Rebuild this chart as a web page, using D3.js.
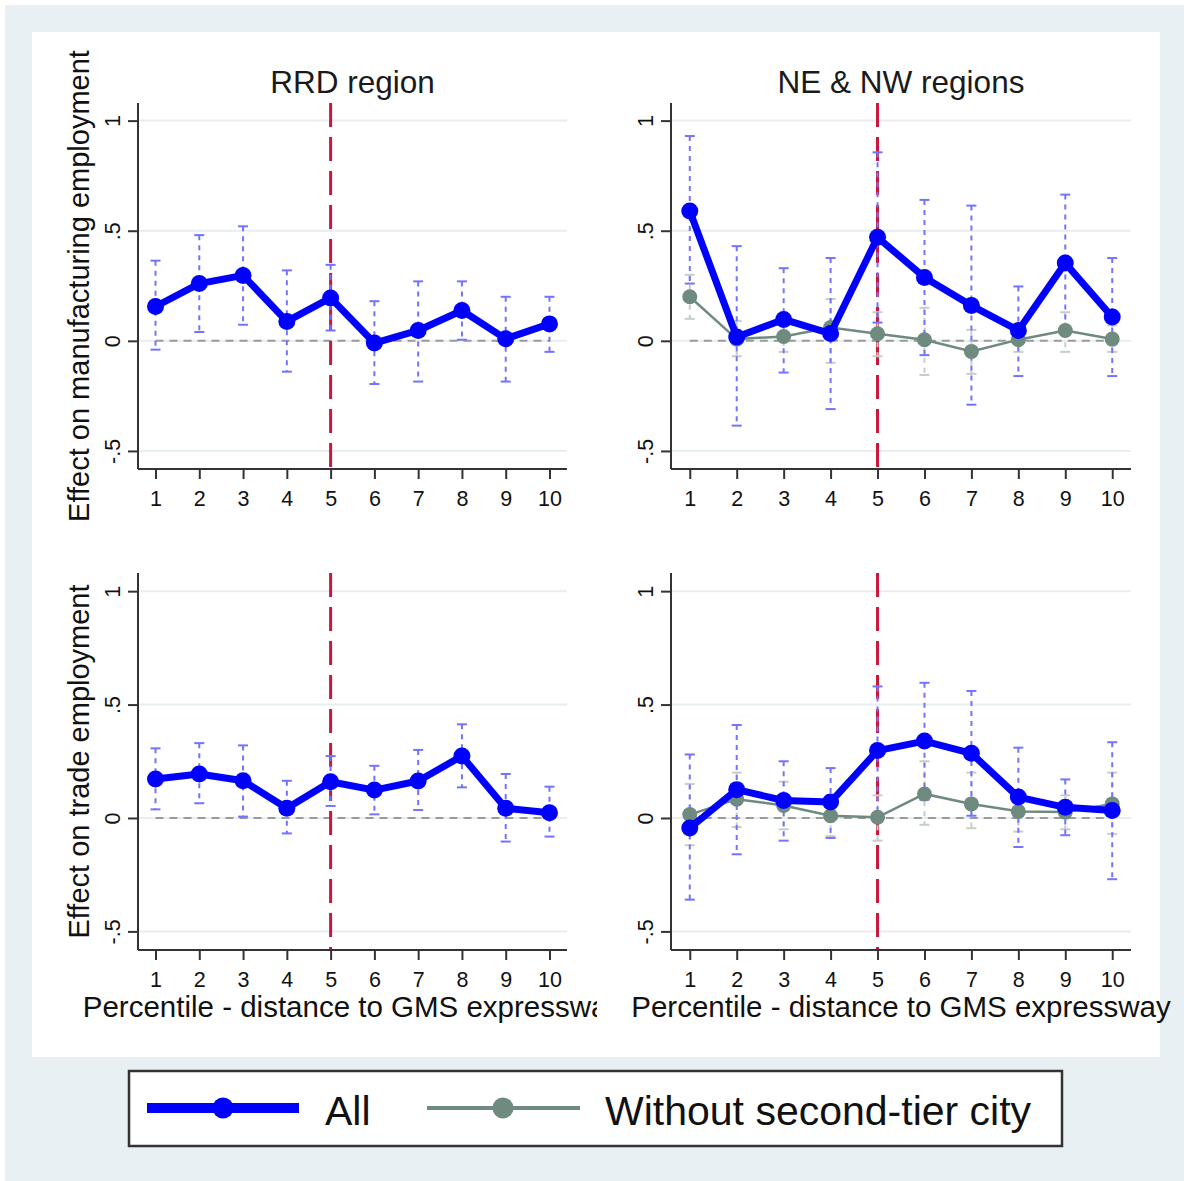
<!DOCTYPE html>
<html>
<head>
<meta charset="utf-8">
<script src="https://cdn.jsdelivr.net/npm/d3@7"></script>
<style>
  body { margin: 0; background: #fff; }
  svg { display: block; font-family: "Liberation Sans", Arial, sans-serif; }
</style>
</head>
<body>
<svg width="1184" height="1181"></svg>
<script>
// percentile bins
var bins = [1, 2, 3, 4, 5, 6, 7, 8, 9, 10];
var yTicks = [-0.5, 0, 0.5, 1];
var yTickLabels = ["-.5", "0", ".5", "1"];

// RRD region, manufacturing
var rrdMfgAll   = [0.156, 0.26, 0.297, 0.088, 0.195, -0.01, 0.047, 0.138, 0.009, 0.077];
var rrdMfgAllLo = [-0.04, 0.04, 0.073, -0.14, 0.047, -0.196, -0.185, 0.005, -0.185, -0.05];
var rrdMfgAllHi = [0.364, 0.48, 0.52, 0.32, 0.345, 0.18, 0.27, 0.27, 0.2, 0.2];

// NE & NW regions, manufacturing
var neMfgAll   = [0.59, 0.017, 0.097, 0.033, 0.47, 0.288, 0.16, 0.047, 0.353, 0.108];
var neMfgAllLo = [0.26, -0.385, -0.144, -0.31, 0.083, -0.065, -0.29, -0.16, 0.045, -0.16];
var neMfgAllHi = [0.93, 0.43, 0.33, 0.376, 0.856, 0.64, 0.614, 0.247, 0.664, 0.376];
var neMfgNo    = [0.2, 0.008, 0.02, 0.06, 0.032, 0.005, -0.048, 0.005, 0.047, 0.008];
var neMfgNoLo  = [0.1, -0.07, -0.05, -0.1, -0.07, -0.155, -0.15, -0.05, -0.05, -0.05];
var neMfgNoHi  = [0.3, 0.09, 0.09, 0.19, 0.13, 0.15, 0.05, 0.06, 0.13, 0.07];

// RRD region, trade
var rrdTrdAll   = [0.172, 0.194, 0.164, 0.043, 0.16, 0.123, 0.163, 0.273, 0.043, 0.023];
var rrdTrdAllLo = [0.038, 0.065, 0.006, -0.068, 0.053, 0.016, 0.035, 0.135, -0.104, -0.082];
var rrdTrdAllHi = [0.307, 0.33, 0.32, 0.164, 0.273, 0.23, 0.3, 0.413, 0.194, 0.138];

// NE & NW regions, trade
var neTrdAll   = [-0.044, 0.125, 0.077, 0.07, 0.297, 0.339, 0.285, 0.092, 0.047, 0.033];
var neTrdAllLo = [-0.36, -0.16, -0.1, -0.088, 0.01, 0.08, 0.01, -0.128, -0.076, -0.27];
var neTrdAllHi = [0.28, 0.41, 0.25, 0.22, 0.58, 0.596, 0.56, 0.31, 0.17, 0.334];
var neTrdNo    = [0.015, 0.083, 0.055, 0.01, 0.003, 0.106, 0.062, 0.029, 0.026, 0.062];
var neTrdNoLo  = [-0.12, -0.04, -0.05, -0.08, -0.1, -0.03, -0.045, -0.06, -0.05, -0.07];
var neTrdNoHi  = [0.15, 0.2, 0.16, 0.1, 0.1, 0.25, 0.2, 0.12, 0.1, 0.2];

var colAll = "#0000ff", colNo = "#6f8a7e", colCI = "#7373ff", colCINo = "#c6ceca";
var colRed = "#c9173d", colGrid = "#e6eef1", colAxis = "#333";

var svg = d3.select("svg");

// background regions
svg.append("rect").attr("x", 5).attr("y", 5).attr("width", 1179).attr("height", 1176).attr("fill", "#e9f0f3");
svg.append("rect").attr("x", 32).attr("y", 32).attr("width", 1128).attr("height", 1025).attr("fill", "#fff");

var panels = [
  {title: "RRD region", ytitle: "Effect on manufacturing employment", x0: 138, x1: 567, y0: 103, y1: 469, clip: [32, 597],
   all: rrdMfgAll, lo: rrdMfgAllLo, hi: rrdMfgAllHi},
  {title: "NE & NW regions", x0: 671, x1: 1131, y0: 103, y1: 469, clip: [600, 1184],
   all: neMfgAll, lo: neMfgAllLo, hi: neMfgAllHi, no: neMfgNo, noLo: neMfgNoLo, noHi: neMfgNoHi},
  {ytitle: "Effect on trade employment", xtitle: "Percentile - distance to GMS expressway", x0: 138, x1: 567, y0: 573, y1: 950, clip: [32, 597],
   all: rrdTrdAll, lo: rrdTrdAllLo, hi: rrdTrdAllHi},
  {xtitle: "Percentile - distance to GMS expressway", x0: 671, x1: 1131, y0: 573, y1: 950, clip: [600, 1184],
   all: neTrdAll, lo: neTrdAllLo, hi: neTrdAllHi, no: neTrdNo, noLo: neTrdNoLo, noHi: neTrdNoHi}
];

var defs = svg.append("defs");

panels.forEach(function(p, i) {
  var x = d3.scaleLinear().domain([0.6, 10.4]).range([p.x0, p.x1]);
  var y = d3.scaleLinear().domain([-0.582, 1.08]).range([p.y1, p.y0]);
  var g = svg.append("g");

  // gridlines
  g.selectAll("line.grid").data(yTicks).enter().append("line")
    .attr("x1", p.x0).attr("x2", p.x1)
    .attr("y1", function(d) { return y(d); }).attr("y2", function(d) { return y(d); })
    .attr("stroke", colGrid).attr("stroke-width", 2);

  // zero reference
  g.append("line")
    .attr("x1", x(1)).attr("x2", x(10)).attr("y1", y(0)).attr("y2", y(0))
    .attr("stroke", "#9a9a9a").attr("stroke-width", 2).attr("stroke-dasharray", "8,6");

  // cutoff at 5th percentile
  g.append("line")
    .attr("x1", x(5)).attr("x2", x(5)).attr("y1", p.y0).attr("y2", p.y1)
    .attr("stroke", colRed).attr("stroke-width", 3).attr("stroke-dasharray", "24,10");

  function ci(lo, hi, color) {
    var cg = g.append("g").attr("stroke", color).attr("stroke-width", 2).attr("fill", "none");
    bins.forEach(function(b, j) {
      cg.append("line").attr("x1", x(b)).attr("x2", x(b))
        .attr("y1", y(hi[j])).attr("y2", y(lo[j])).attr("stroke-dasharray", "5,5");
      [lo[j], hi[j]].forEach(function(v) {
        cg.append("line").attr("x1", x(b) - 5).attr("x2", x(b) + 5)
          .attr("y1", y(v)).attr("y2", y(v));
      });
    });
  }
  if (p.no) ci(p.noLo, p.noHi, colCINo);
  ci(p.lo, p.hi, colCI);

  var line = d3.line().x(function(d, j) { return x(bins[j]); }).y(function(d) { return y(d); });

  if (p.no) {
    g.append("path").datum(p.no).attr("d", line)
      .attr("fill", "none").attr("stroke", colNo).attr("stroke-width", 2.5);
    g.selectAll("circle.no").data(p.no).enter().append("circle")
      .attr("cx", function(d, j) { return x(bins[j]); }).attr("cy", function(d) { return y(d); })
      .attr("r", 7.5).attr("fill", colNo);
  }
  g.append("path").datum(p.all).attr("d", line)
    .attr("fill", "none").attr("stroke", colAll).attr("stroke-width", 7).attr("stroke-linejoin", "round");
  g.selectAll("circle.all").data(p.all).enter().append("circle")
    .attr("cx", function(d, j) { return x(bins[j]); }).attr("cy", function(d) { return y(d); })
    .attr("r", 8.5).attr("fill", colAll);

  // axes
  var ya = g.append("g").attr("transform", "translate(" + p.x0 + ",0)")
    .call(d3.axisLeft(y).tickValues(yTicks).tickSize(10).tickFormat(function(d, j) { return yTickLabels[j]; }));
  ya.select(".domain").attr("d", "M0," + p.y0 + "V" + p.y1);
  ya.selectAll(".tick text").attr("transform", "rotate(-90)").attr("x", 0).attr("y", -18)
    .attr("dy", 0).attr("text-anchor", "middle");

  var xa = g.append("g").attr("transform", "translate(0," + p.y1 + ")")
    .call(d3.axisBottom(x).tickValues(bins).tickSize(10).tickFormat(d3.format("d")));
  xa.select(".domain").attr("d", "M" + p.x0 + ",0H" + p.x1);
  xa.selectAll(".tick text").attr("y", 22);

  [ya, xa].forEach(function(a) {
    a.selectAll(".domain, .tick line").attr("stroke", colAxis).attr("stroke-width", 2);
    a.selectAll(".tick text").attr("font-size", 21.5).attr("fill", "#111")
      .attr("font-family", "Liberation Sans, Arial, sans-serif");
  });

  var cx = (p.x0 + p.x1) / 2, cy = (p.y0 + p.y1) / 2;
  if (p.title) {
    svg.append("text").attr("x", cx).attr("y", 93).attr("text-anchor", "middle")
      .attr("font-size", 31.5).attr("fill", "#1a1a1a").text(p.title);
  }
  if (p.ytitle) {
    svg.append("text").attr("transform", "translate(89," + cy + ") rotate(-90)")
      .attr("text-anchor", "middle").attr("font-size", 29).attr("fill", "#111").text(p.ytitle);
  }
  if (p.xtitle) {
    defs.append("clipPath").attr("id", "clip" + i).append("rect")
      .attr("x", p.clip[0]).attr("y", 980).attr("width", p.clip[1] - p.clip[0]).attr("height", 60);
    svg.append("text").attr("clip-path", "url(#clip" + i + ")")
      .attr("x", cx).attr("y", 1017).attr("text-anchor", "middle")
      .attr("font-size", 29.5).attr("fill", "#111").text(p.xtitle);
  }
});

// legend
var lg = svg.append("g");
lg.append("rect").attr("x", 129).attr("y", 1071).attr("width", 933).attr("height", 75)
  .attr("fill", "#fff").attr("stroke", "#333").attr("stroke-width", 2.5);
lg.append("line").attr("x1", 147).attr("x2", 299).attr("y1", 1108).attr("y2", 1108)
  .attr("stroke", colAll).attr("stroke-width", 10);
lg.append("circle").attr("cx", 223).attr("cy", 1108).attr("r", 10.5).attr("fill", colAll);
lg.append("text").attr("x", 325).attr("y", 1125).attr("font-size", 41).attr("fill", "#111").text("All");
lg.append("line").attr("x1", 427).attr("x2", 580).attr("y1", 1108).attr("y2", 1108)
  .attr("stroke", colNo).attr("stroke-width", 4);
lg.append("circle").attr("cx", 503).attr("cy", 1108).attr("r", 10.5).attr("fill", colNo);
lg.append("text").attr("x", 605).attr("y", 1125).attr("font-size", 41).attr("fill", "#111").text("Without second-tier city");
</script>
</body>
</html>
